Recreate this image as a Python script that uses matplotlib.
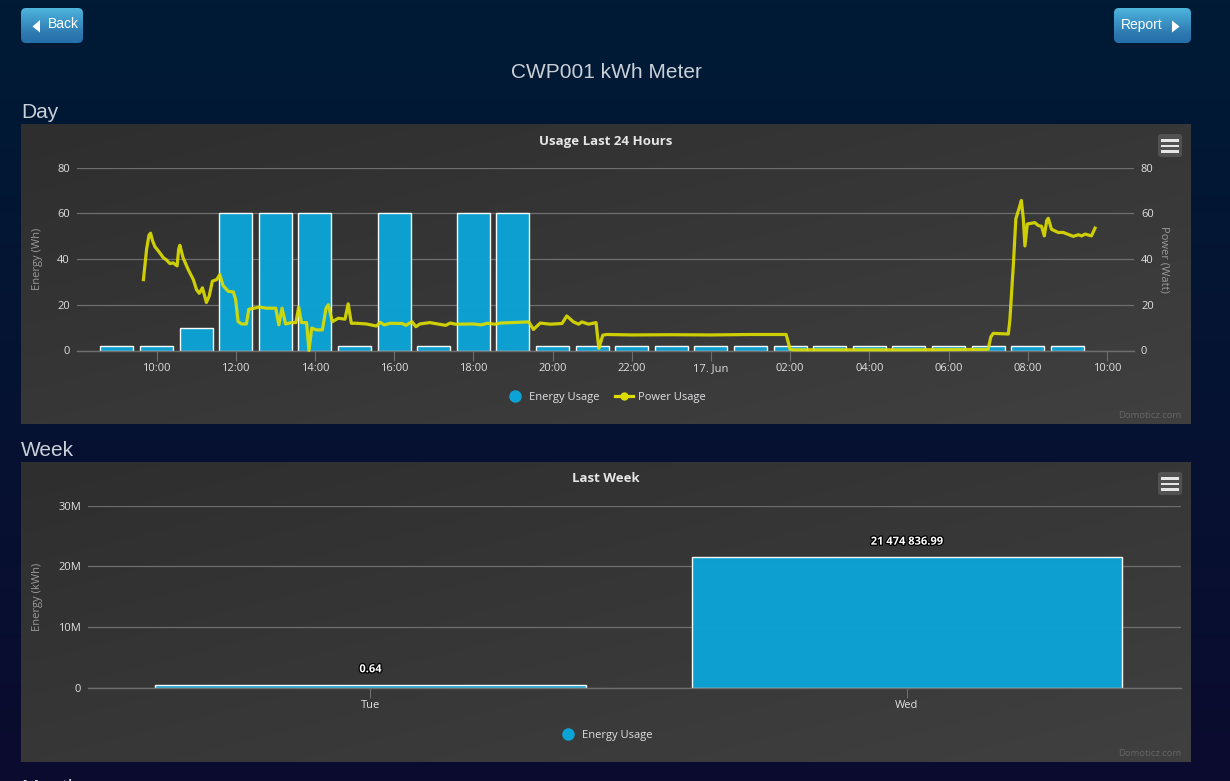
import matplotlib
matplotlib.use("Agg")
import matplotlib.pyplot as plt
import matplotlib.patheffects as pe
from matplotlib.lines import Line2D
from matplotlib.patches import FancyBboxPatch, Polygon, Rectangle
import numpy as np

# --- data -------------------------------------------------------------
# hours counted from midnight of the first day, 24 = 17. Jun
energy_hours = [9, 10, 11, 12, 13, 14, 15, 16, 17, 18, 19, 20, 21, 22, 23, 24,
                25, 26, 27, 28, 29, 30, 31, 32, 33]
energy_wh = [2, 2, 10, 60, 60, 60, 2, 60, 2, 60, 60, 2, 2, 2, 2, 2,
             2, 2, 2, 2, 2, 2, 2, 2, 2]

power_hours = [9.67, 9.75, 9.81, 9.85, 9.90, 9.96, 10.07, 10.17, 10.25, 10.34, 10.42,
               10.52, 10.56, 10.59, 10.67, 10.8, 10.93, 11.01, 11.08, 11.16, 11.26,
               11.33, 11.41, 11.52, 11.6, 11.68, 11.81, 11.94, 12.0, 12.06, 12.15,
               12.27, 12.33, 12.44, 12.6, 12.78, 13.01, 13.09, 13.17, 13.26, 13.41,
               13.52, 13.59, 13.66, 13.79, 13.85, 13.92, 14.04, 14.19, 14.28, 14.34,
               14.44, 14.59, 14.76, 14.84, 14.92, 15.05, 15.3, 15.55, 15.65, 15.75,
               15.9, 16.2, 16.3, 16.45, 16.55, 16.65, 16.9, 17.1, 17.3, 17.42, 17.55,
               18.0, 18.2, 18.35, 18.55, 18.68, 19.4, 19.52, 19.69, 19.94, 20.24,
               20.36, 20.53, 20.66, 20.74, 20.91, 21.1, 21.17, 21.27, 21.37, 22.0,
               23.0, 24.0, 25.0, 25.9, 26.0, 26.08, 29.0, 31.0, 31.07, 31.13, 31.51,
               31.55, 31.64, 31.7, 31.79, 31.84, 31.89, 31.93, 31.99, 32.18, 32.27,
               32.35, 32.42, 32.48, 32.52, 32.6, 32.77, 32.9, 33.15, 33.28, 33.36,
               33.45, 33.61, 33.7]
power_watts = [31, 44.3, 50.4, 51.3, 48, 45.4, 43, 40.6, 39.6, 38, 38.3,
               37, 44.3, 46, 40.6, 35.4, 31, 26.6, 25, 27.4, 21,
               23.7, 30.3, 31, 33.2, 28.4, 25.9, 25.6, 22.2, 12.6, 11.6,
               11.6, 18, 18.4, 19, 18.5, 18.5, 11.2, 18.5, 11.6, 12.2,
               12.2, 19, 12.2, 12.2, 0, 9.8, 9, 9, 18.5, 20,
               12.6, 14.1, 13.7, 20.4, 11.9, 11.9, 11.6, 10.7, 12.3, 11.2,
               11.9, 11.8, 11, 12.6, 10.4, 11.6, 12.2, 11.6, 11, 12, 11.5,
               11.6, 11.2, 11.9, 11.5, 12, 12.5, 9.2, 12, 11.5, 11.8,
               15.1, 12.5, 11.5, 12.5, 11.5, 12.2, 0.9, 6.7, 7, 6.8,
               6.9, 6.8, 7, 7, 0.5, 0.3, 0.3, 0.5, 6, 7.5, 7.2,
               13.4, 38, 57.5, 62.6, 65.6, 57.5, 45.7, 55.3, 55.9, 54.6,
               54.3, 50.1, 56.8, 57.8, 53, 51.6, 51.6, 49.9, 50.6, 50.1,
               50.9, 50.1, 53.5]

day_ticks = [10, 12, 14, 16, 18, 20, 22, 24, 26, 28, 30, 32, 34]
day_labels = ["10:00", "12:00", "14:00", "16:00", "18:00", "20:00", "22:00",
              "17. Jun", "02:00", "04:00", "06:00", "08:00", "10:00"]
day_yticks = [0, 20, 40, 60, 80]

week_days = ["Tue", "Wed"]
week_kwh = [0.64, 21474836.99]
week_labels = ["0.64", "21 474 836.99"]
week_yticks = [0, 10e6, 20e6, 30e6]
week_yticklabels = ["0", "10M", "20M", "30M"]

# --- colours ----------------------------------------------------------
BLUE = "#0ca3d6"
YELLOW = "#dcdc00"
GRID = "#6e6e6e"
TICK = "#e0e0e3"
AXTITLE = "#9a9a9a"
CHART_FONT = "Open Sans"

W, H = 1230, 781
fig = plt.figure(figsize=(W / 100, H / 100), dpi=100)


def px_axes(left, top, right, bottom):
    return fig.add_axes([left / W, 1 - bottom / H, (right - left) / W, (bottom - top) / H])


# page background, buttons and panels are drawn in pixel coordinates
bg = fig.add_axes([0, 0, 1, 1])
page = np.linspace(0, 1, 256)[:, None, None] * (np.array([11, 11, 46]) - np.array([0, 27, 54])) + np.array([0, 27, 54])
bg.imshow(page.astype(np.uint8), extent=(0, W, H, 0), aspect="auto")


def panel(left, top, right, bottom):
    xx, yy = np.meshgrid(np.linspace(0, 1, 128), np.linspace(0, 1, 128))
    bg.imshow((xx + yy) / 2, cmap="gray", vmin=0, vmax=1, extent=(left, right, bottom, top), aspect="auto",
              norm=None) if False else None
    shade = 46 + (64 - 46) * (xx + yy) / 2
    rgb = np.dstack([shade, shade, shade]).astype(np.uint8)
    bg.imshow(rgb, extent=(left, right, bottom, top), aspect="auto")
    bg.text(1181, bottom - 8, "Domoticz.com", color="#656565", fontsize=6.8, ha="right", va="center",
            family=CHART_FONT)
    # export menu button
    bg.add_patch(FancyBboxPatch((1158, top + 10), 24, 23, boxstyle="round,pad=0,rounding_size=3",
                                fc="#515151", ec="none"))
    for dy in (16, 21.5, 27):
        bg.add_patch(Rectangle((1161, top + dy - 1), 18, 2.6, fc="#e6e6e6", ec="none"))


def button(left, right, label, text_x, tri):
    grad = np.array([[80, 181, 222], [66, 160, 206], [56, 140, 192], [44, 120, 175], [38, 112, 170]])
    grad = np.interp(np.linspace(0, 4, 64), range(5), grad[:, 0]), np.interp(np.linspace(0, 4, 64), range(5), grad[:, 1]), np.interp(np.linspace(0, 4, 64), range(5), grad[:, 2])
    rgb = np.dstack(grad).reshape(64, 1, 3).astype(np.uint8)
    im = bg.imshow(rgb, extent=(left, right, 43, 8), aspect="auto")
    box = FancyBboxPatch((left, 8), right - left, 35, boxstyle="round,pad=0,rounding_size=5",
                         fc="none", ec="none", transform=bg.transData)
    bg.add_patch(box)
    im.set_clip_path(box)
    bg.text(text_x, 24.5, label, color="white", fontsize=10, ha="left", va="center", family="Liberation Sans",
            fontweight="bold" if False else "normal")
    bg.add_patch(Polygon(tri, fc="white", ec="none"))


panel(21, 124, 1191, 424)
panel(21, 462, 1191, 762)
button(21, 83, "Back", 47.5, [(32.5, 26.5), (40, 20), (40, 32.5)])
button(1114, 1191, "Report", 1120.5, [(1179.5, 26.5), (1172, 20.5), (1172, 32.5)])

page_font = dict(family="Liberation Sans", color="#c9d0d8", va="center")
bg.text(606, 73, "CWP001 kWh Meter", fontsize=15, ha="center", **page_font)
bg.text(21, 112, "Day", fontsize=15, ha="left", **page_font)
bg.text(21, 450, "Week", fontsize=15, ha="left", **page_font)
bg.text(21, 788, "Month", fontsize=15, ha="left", **page_font)
bg.set_xlim(0, W)
bg.set_ylim(H, 0)
bg.axis("off")


def style_axes(ax):
    ax.patch.set_visible(False)
    for name, spine in ax.spines.items():
        spine.set_visible(name == "bottom")
    ax.spines["bottom"].set_color(GRID)
    ax.spines["bottom"].set_linewidth(1.0)
    ax.grid(axis="y", color=GRID, lw=0.9)
    ax.set_axisbelow(True)
    ax.tick_params(axis="x", color=GRID, length=7, width=0.8, labelcolor=TICK, labelsize=8, pad=2)
    ax.tick_params(axis="y", length=0, labelcolor=TICK, labelsize=8, pad=5)
    for lab in ax.get_xticklabels() + ax.get_yticklabels():
        lab.set_family(CHART_FONT)


# --- day chart --------------------------------------------------------
ax = px_axes(77, 167.5, 1134, 350.5)
ax.bar(energy_hours, energy_wh, width=0.83, color=BLUE, edgecolor="white", linewidth=1.0, alpha=0.97, zorder=2)
ax.set_xlim(10 - 79.5 / 39.6, 10 + 977.5 / 39.6)
ax.set_ylim(0, 80)
ax.set_xticks(day_ticks, day_labels)
ax.set_yticks(day_yticks)
style_axes(ax)
ax.set_ylabel("Energy (Wh)", color=AXTITLE, fontsize=8, family=CHART_FONT)
ax.yaxis.set_label_coords((43 - 77) / 1057, 0.5)

ax_r = ax.twinx()
ax_r.plot(power_hours, power_watts, color=YELLOW, lw=2.3, alpha=0.92, solid_joinstyle="round", clip_on=False, zorder=3)
ax_r.set_ylim(0, 80)
ax_r.set_yticks(day_yticks)
ax_r.patch.set_visible(False)
for spine in ax_r.spines.values():
    spine.set_visible(False)
ax_r.tick_params(axis="y", length=0, labelcolor=TICK, labelsize=8, pad=5)
for lab in ax_r.get_yticklabels():
    lab.set_family(CHART_FONT)
ax_r.set_ylabel("Power (Watt)", color=AXTITLE, fontsize=8, family=CHART_FONT, rotation=270)
ax_r.yaxis.set_label_coords((1169 - 77) / 1057, 0.5)

bg.text(606, 141, "Usage Last 24 Hours", color="#e6e6e6", fontsize=9.5, fontweight="bold", ha="center", va="center",
        family=CHART_FONT)

handles = [Line2D([], [], color=BLUE, marker="o", ls="none", ms=9, mew=0),
           Line2D([], [], color=YELLOW, marker="o", lw=2.3, ms=6, mew=0)]
fig.legend(handles, ["Energy Usage", "Power Usage"], loc="center", bbox_to_anchor=(606 / W, 1 - 397.5 / H), ncol=2,
           frameon=False, labelcolor=TICK, prop={"family": CHART_FONT, "size": 8}, handlelength=1.6,
           columnspacing=1.4, handletextpad=0.5)

# --- week chart -------------------------------------------------------
ax2 = px_axes(88, 505.5, 1181, 688)
positions = np.arange(len(week_days))
# small values still get a visible bar, like the original minimum bar height
drawn = np.maximum(week_kwh, 500000)
ax2.bar(positions, drawn, width=0.803, color=BLUE, edgecolor="white", linewidth=1.0, alpha=0.97, zorder=2)
ax2.set_xlim(-(370.5 - 88) / 536.5, (1181 - 370.5) / 536.5)
ax2.set_ylim(0, 30e6)
ax2.set_xticks(positions, week_days)
ax2.set_yticks(week_yticks, week_yticklabels)
style_axes(ax2)
ax2.set_ylabel("Energy (kWh)", color=AXTITLE, fontsize=8, family=CHART_FONT)
ax2.yaxis.set_label_coords((43 - 88) / 1093, 0.5)
for pos, height, label in zip(positions, drawn, week_labels):
    ax2.annotate(label, (pos, height), xytext=(0, 7), textcoords="offset points", ha="center", va="bottom",
                 color="white", fontsize=8, fontweight="bold", family=CHART_FONT,
                 path_effects=[pe.withStroke(linewidth=1.8, foreground="black")], zorder=5)

bg.text(606, 479, "Last Week", color="#e6e6e6", fontsize=9.5, fontweight="bold", ha="center", va="center",
        family=CHART_FONT)
fig.legend(handles[:1], ["Energy Usage"], loc="center", bbox_to_anchor=(606 / W, 1 - 735.5 / H),
           frameon=False, labelcolor=TICK, prop={"family": CHART_FONT, "size": 8}, handlelength=1.6,
           handletextpad=0.5)

fig.savefig("out.png", dpi=100)
